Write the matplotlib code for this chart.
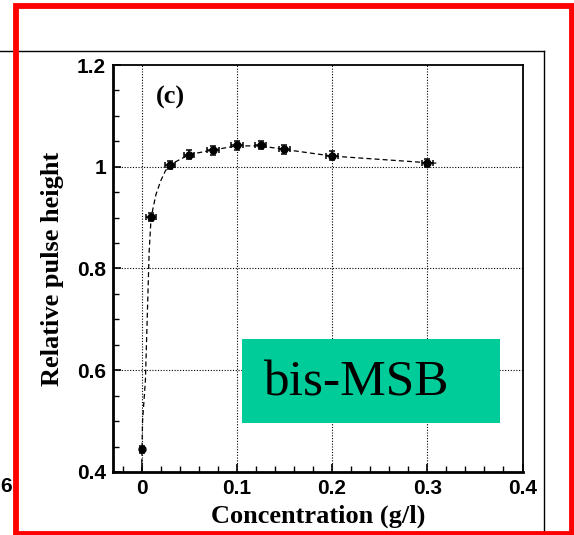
import numpy as np
import matplotlib.pyplot as plt
from matplotlib.patches import Rectangle
from matplotlib.lines import Line2D

# measured relative pulse height vs bis-MSB concentration
conc = [0.0, 0.01, 0.03, 0.05, 0.075, 0.10, 0.125, 0.15, 0.20, 0.30]
pulse = [0.445, 0.901, 1.004, 1.024, 1.032, 1.042, 1.042, 1.034, 1.022, 1.008]
conc_err = [0.001, 0.005, 0.005, 0.005, 0.006, 0.006, 0.006, 0.006, 0.006, 0.006]
pulse_err = [0.007, 0.008, 0.008, 0.008, 0.008, 0.009, 0.008, 0.008, 0.008, 0.008]

# fitted curve
fit_x = [0.0, 0.001, 0.004, 0.008, 0.01, 0.015, 0.02, 0.025, 0.03, 0.05, 0.075, 0.10, 0.125, 0.15, 0.20, 0.30, 0.31]
fit_y = [0.40, 0.50, 0.58, 0.836, 0.90, 0.945, 0.972, 0.992, 1.004, 1.024, 1.033, 1.041, 1.041, 1.034, 1.021, 1.008, 1.007]

xticks = [0, 0.1, 0.2, 0.3, 0.4]
yticks = [0.4, 0.6, 0.8, 1.0, 1.2]
xtick_labels = ['0', '0.1', '0.2', '0.3', '0.4']
ytick_labels = ['0.4', '0.6', '0.8', '1', '1.2']

fig = plt.figure(figsize=(5.74, 5.35), dpi=100)
ax = fig.add_axes([0.1969, 0.1178, 0.7134, 0.7607])

ax.plot(fit_x, fit_y, color='black', lw=0.9, ls=(0, (4, 2.5)))
ax.errorbar(conc, pulse, xerr=conc_err, yerr=pulse_err, fmt='o', color='black',
            ms=5, elinewidth=1.1, capsize=2, capthick=1.1)

ax.set_xlim(-0.03, 0.4)
ax.set_ylim(0.4, 1.2)
ax.set_xticks(xticks)
ax.set_xticklabels(xtick_labels)
ax.set_yticks(yticks)
ax.set_yticklabels(ytick_labels)
ax.set_xticks(np.arange(-0.02, 0.4, 0.02), minor=True)
ax.set_yticks(np.arange(0.45, 1.2, 0.05), minor=True)
ax.tick_params(which='both', direction='in', top=False, right=False)
ax.tick_params(which='major', length=6, width=1.2, labelsize=15, pad=5)
ax.tick_params(which='minor', length=4, width=1)
for lab in ax.get_xticklabels() + ax.get_yticklabels():
    lab.set_fontfamily('Liberation Sans')
    lab.set_fontweight('bold')

for x in [0, 0.1, 0.2, 0.3]:
    ax.axvline(x, color='black', lw=0.8, ls=(0, (1, 1.5)), zorder=0)
for y in [0.6, 0.8, 1.0]:
    ax.axhline(y, color='black', lw=0.8, ls=(0, (1, 1.5)), zorder=0)

ax.spines['left'].set_linewidth(2)
ax.spines['bottom'].set_linewidth(2)
ax.spines['top'].set_linewidth(1.3)
ax.spines['right'].set_linewidth(1.3)

ax.set_xlabel('Concentration (g/l)', fontfamily='Liberation Serif', fontweight='bold',
              fontsize=19, labelpad=5)
ax.set_ylabel('Relative pulse height', fontfamily='Liberation Serif', fontweight='bold',
              fontsize=19, labelpad=9)

ax.text(0.0147, 1.137, '(c)', fontfamily='Liberation Serif', fontweight='bold',
        fontsize=19, ha='left', va='center')

# label box
fig.patches.append(Rectangle((242 / 574, 1 - 423 / 535), 258 / 574, 84 / 535,
                             transform=fig.transFigure, facecolor='#00cc99',
                             edgecolor='none', zorder=5))
fig.text(263 / 574, 1 - 383 / 535, 'bis-MSB', fontfamily='Liberation Serif',
         fontsize=37, ha='left', va='center', zorder=6)

# neighbouring frame and outline
fig.lines.append(Line2D([0, 544 / 574], [1 - 51 / 535] * 2, transform=fig.transFigure,
                        color='black', lw=1))
fig.lines.append(Line2D([544 / 574] * 2, [1 - 51 / 535, 0], transform=fig.transFigure,
                        color='black', lw=1))
fig.text(0.0, 1 - 487 / 535, '6', fontfamily='Liberation Sans', fontweight='bold',
         fontsize=15, ha='left', va='center')
fig.patches.append(Rectangle((16 / 574, 1 - 533.5 / 535), 556 / 574, 527.5 / 535,
                             transform=fig.transFigure, facecolor='none',
                             edgecolor='#ff0000', lw=4.2, zorder=10))

fig.savefig('out.png', dpi=100)
